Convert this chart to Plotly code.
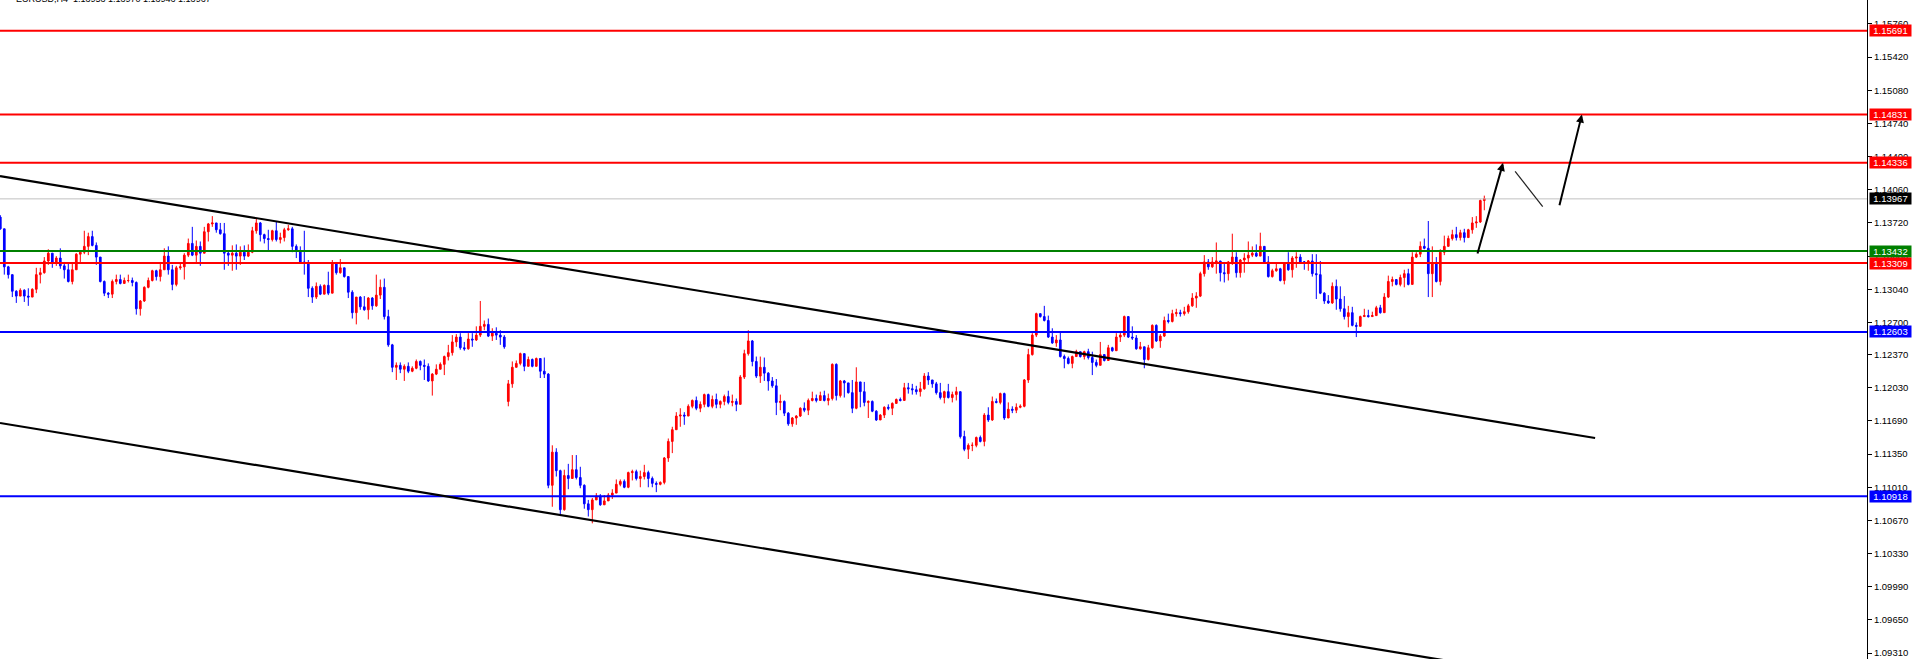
import plotly.graph_objects as go

# ---------------- data (prices in 1e-4 units, i.e. 11366 -> 1.1366) ----------------
first_open_pts = 11378
gap_open_pts = {127: 11189}

close_pts = [
11366,11327,11319,11302,11297,11303,11297,11296,11304,11319,
11321,11333,11341,11331,11336,11328,11324,11312,11324,11340,
11342,11348,11358,11349,11337,11312,11300,11299,11312,11314,
11310,11313,11313,11311,11284,11292,11306,11313,11323,11317,
11324,11338,11324,11309,11326,11327,11339,11351,11339,11348,
11341,11363,11371,11372,11365,11361,11341,11339,11341,11338,
11342,11338,11342,11364,11372,11360,11356,11355,11364,11355,
11357,11365,11366,11348,11343,11332,11331,11305,11296,11307,
11299,11308,11300,11331,11321,11326,11317,11301,11280,11296,
11286,11283,11295,11287,11298,11306,11276,11247,11224,11226,
11222,11225,11220,11223,11230,11226,11225,11210,11217,11222,
11227,11235,11239,11250,11255,11244,11243,11253,11252,11257,
11266,11268,11256,11259,11257,11255,11245,11207,11224,11228,
11238,11225,11232,11225,11233,11220,11217,11103,11137,11118,
11078,11113,11110,11119,11111,11103,11084,11078,11088,11092,
11083,11087,11093,11095,11104,11107,11101,11116,11117,11110,
11112,11116,11110,11105,11104,11106,11131,11148,11160,11174,
11175,11174,11184,11190,11182,11186,11196,11184,11191,11186,
11189,11194,11188,11189,11186,11214,11238,11251,11230,11215,
11224,11218,11210,11205,11188,11189,11177,11166,11172,11174,
11182,11180,11190,11192,11190,11195,11190,11192,11227,11195,
11210,11208,11198,11182,11209,11199,11188,11189,11179,11170,
11175,11183,11182,11187,11191,11190,11203,11202,11201,11199,
11202,11215,11211,11207,11198,11193,11199,11193,11196,11199,
11153,11140,11144,11144,11152,11148,11175,11170,11189,11188,
11197,11172,11181,11180,11183,11184,11211,11237,11257,11279,
11276,11272,11255,11249,11252,11235,11233,11228,11235,11240,
11235,11240,11234,11229,11226,11237,11231,11244,11241,11255,
11257,11276,11255,11254,11243,11245,11232,11244,11267,11251,
11256,11272,11271,11279,11280,11279,11281,11287,11295,11297,
11320,11332,11327,11332,11333,11321,11320,11332,11337,11321,
11334,11336,11339,11341,11338,11348,11332,11317,11323,11325,
11313,11330,11324,11336,11337,11332,11332,11333,11320,11319,
11300,11292,11290,11307,11294,11284,11276,11280,11267,11266,
11276,11277,11276,11277,11285,11280,11296,11312,11314,11309,
11316,11320,11309,11337,11340,11348,11346,11320,11331,11312,
11342,11348,11356,11360,11357,11362,11357,11365,11372,11373,
11395,11397]

high_pts = [
11380,11366,11328,11318,11303,11305,11304,11305,11305,11326,
11326,11337,11345,11341,11338,11346,11332,11331,11331,11341,
11343,11364,11362,11364,11352,11337,11313,11301,11314,11319,
11319,11316,11319,11316,11312,11293,11307,11316,11324,11324,
11332,11346,11348,11329,11328,11331,11341,11356,11368,11354,
11353,11368,11372,11379,11372,11372,11372,11344,11349,11350,
11348,11349,11350,11368,11377,11373,11361,11365,11365,11373,
11362,11367,11370,11368,11350,11348,11364,11334,11307,11311,
11309,11309,11322,11334,11332,11335,11326,11317,11303,11296,
11297,11297,11296,11296,11319,11314,11315,11283,11248,11229,
11229,11227,11229,11225,11232,11231,11232,11228,11218,11227,
11229,11236,11247,11257,11258,11259,11250,11259,11259,11266,
11292,11272,11274,11264,11265,11262,11257,11211,11230,11231,
11239,11238,11235,11233,11234,11228,11234,11218,11144,11141,
11119,11119,11125,11134,11134,11122,11104,11088,11090,11095,
11094,11093,11095,11099,11109,11109,11109,11117,11119,11119,
11118,11124,11118,11112,11107,11107,11132,11151,11163,11178,
11182,11178,11186,11191,11194,11189,11197,11197,11195,11197,
11190,11196,11200,11196,11192,11216,11242,11262,11252,11235,
11235,11234,11219,11214,11212,11196,11190,11178,11173,11175,
11183,11188,11192,11199,11196,11199,11200,11197,11228,11228,
11211,11211,11203,11211,11224,11209,11209,11190,11190,11180,
11176,11184,11186,11188,11192,11193,11208,11208,11207,11205,
11209,11218,11219,11211,11209,11208,11200,11207,11199,11204,
11199,11159,11146,11147,11153,11154,11177,11183,11194,11192,
11198,11198,11188,11184,11187,11186,11212,11243,11259,11280,
11279,11287,11277,11264,11257,11261,11237,11235,11236,11242,
11240,11241,11243,11240,11232,11250,11237,11247,11245,11259,
11260,11277,11276,11266,11257,11250,11245,11247,11268,11268,
11258,11276,11279,11283,11284,11283,11286,11289,11300,11301,
11322,11339,11335,11337,11352,11333,11332,11333,11361,11342,
11335,11341,11353,11348,11350,11362,11348,11338,11325,11330,
11326,11331,11342,11338,11342,11340,11333,11334,11340,11340,
11333,11301,11298,11311,11314,11307,11297,11287,11286,11270,
11277,11284,11283,11281,11287,11288,11300,11318,11317,11314,
11319,11324,11325,11342,11342,11353,11356,11374,11348,11337,
11345,11359,11359,11365,11368,11365,11366,11366,11378,11379,
11396,11400]

low_pts = [
11365,11319,11315,11296,11290,11297,11291,11287,11296,11300,
11310,11320,11329,11326,11328,11325,11315,11311,11309,11324,
11332,11340,11339,11348,11329,11311,11297,11295,11295,11309,
11309,11310,11311,11307,11278,11277,11291,11305,11312,11313,
11312,11324,11319,11303,11307,11324,11314,11337,11338,11332,
11328,11341,11353,11368,11362,11360,11324,11328,11323,11324,
11329,11334,11337,11341,11361,11353,11351,11344,11353,11353,
11351,11353,11364,11342,11336,11330,11319,11296,11290,11294,
11298,11299,11298,11300,11319,11320,11316,11295,11274,11268,
11283,11282,11273,11283,11286,11294,11273,11245,11219,11211,
11218,11210,11218,11219,11222,11221,11211,11209,11195,11216,
11222,11216,11231,11236,11245,11242,11241,11242,11245,11251,
11255,11262,11255,11251,11252,11247,11243,11184,11203,11224,
11226,11220,11225,11224,11225,11213,11213,11100,11081,11112,
11072,11077,11099,11110,11109,11100,11079,11071,11064,11088,
11082,11083,11087,11089,11095,11102,11100,11100,11108,11108,
11101,11109,11101,11101,11096,11103,11104,11127,11136,11160,
11163,11165,11175,11182,11180,11178,11183,11183,11182,11182,
11182,11185,11186,11184,11179,11186,11212,11236,11225,11213,
11208,11210,11200,11203,11175,11180,11174,11164,11163,11165,
11173,11178,11175,11189,11188,11190,11189,11185,11190,11190,
11193,11193,11197,11177,11181,11183,11184,11172,11178,11169,
11172,11172,11180,11175,11187,11189,11190,11197,11196,11196,
11194,11201,11206,11203,11196,11191,11187,11192,11188,11190,
11151,11138,11130,11138,11142,11147,11143,11168,11169,11187,
11186,11170,11174,11177,11177,11182,11183,11208,11236,11255,
11275,11271,11254,11248,11245,11234,11223,11227,11223,11235,
11234,11232,11232,11216,11224,11226,11230,11231,11240,11241,
11250,11255,11254,11252,11242,11242,11223,11231,11243,11250,
11244,11255,11269,11270,11276,11276,11277,11279,11286,11285,
11296,11317,11324,11326,11320,11312,11311,11313,11329,11316,
11316,11321,11332,11337,11337,11338,11331,11316,11316,11322,
11312,11309,11323,11316,11326,11331,11324,11323,11317,11294,
11299,11289,11289,11289,11283,11281,11273,11265,11266,11255,
11266,11276,11275,11276,11277,11279,11280,11295,11307,11308,
11307,11306,11308,11309,11336,11337,11345,11296,11296,11311,
11308,11339,11348,11354,11354,11354,11352,11360,11361,11367,
11372,11385]

# horizontal levels (price, colour)
level_prices = [1.15691, 1.14831, 1.14336, 1.13432, 1.13309, 1.12603, 1.10918]
level_colors = ["#ff0000", "#ff0000", "#ff0000", "#008000", "#ff0000", "#0000ff", "#0000ff"]
last_price = 1.13967

# y-axis ticks
tick_values = [1.15760, 1.15420, 1.15080, 1.14740, 1.14400, 1.14060, 1.13720, 1.13380,
               1.13040, 1.12700, 1.12370, 1.12030, 1.11690, 1.11350, 1.11010, 1.10670,
               1.10330, 1.09990, 1.09650, 1.09310]
tick_labels = ["%.5f" % v for v in tick_values]

# channel lines: (bar index, price) endpoints
upper_channel = [(-0.075, 1.14201), (398.7, 1.11515)]
lower_channel = [(-0.075, 1.11669), (398.7, 1.08982)]

# forecast arrows: (bar index, price)
arrow1 = [(369.2, 1.13391), (375.7, 1.14336)]
arrow2 = [(378.7, 1.14250), (385.6, 1.13887)]
arrow3 = [(389.7, 1.13887), (395.4, 1.14831)]

title_text = "EURUSD,H4  1.13953 1.13970 1.13946 1.13967"

# ---------------- build ----------------
n = len(close_pts)
closes = [v / 10000 for v in close_pts]
highs = [v / 10000 for v in high_pts]
lows = [v / 10000 for v in low_pts]
opens = []
for i in range(n):
    if i == 0:
        opens.append(first_open_pts / 10000)
    elif i in gap_open_pts:
        opens.append(gap_open_pts[i] / 10000)
    else:
        opens.append(closes[i - 1])
highs = [max(h, o, c) for h, o, c in zip(highs, opens, closes)]
lows = [min(l, o, c) for l, o, c in zip(lows, opens, closes)]
xs = list(range(n))

fig = go.Figure()
fig.add_trace(go.Candlestick(
    x=xs, open=opens, high=highs, low=lows, close=closes,
    increasing=dict(line=dict(color="#ff0000", width=1), fillcolor="#ff0000"),
    decreasing=dict(line=dict(color="#0000ff", width=1), fillcolor="#0000ff"),
    whiskerwidth=0, showlegend=False, hoverinfo="skip"))

X0, X1 = -0.075, 466.675

# current price line
fig.add_trace(go.Scatter(x=[X0, X1], y=[last_price, last_price], mode="lines",
                         line=dict(color="#c0c0c0", width=1), showlegend=False, hoverinfo="skip"))
# levels
for p, c in zip(level_prices, level_colors):
    fig.add_trace(go.Scatter(x=[X0, X1], y=[p, p], mode="lines",
                             line=dict(color=c, width=2), showlegend=False, hoverinfo="skip"))
# channel
for seg in (upper_channel, lower_channel):
    fig.add_trace(go.Scatter(x=[seg[0][0], seg[1][0]], y=[seg[0][1], seg[1][1]], mode="lines",
                             line=dict(color="#000000", width=2.2), showlegend=False, hoverinfo="skip"))
# thin middle arrow line
fig.add_trace(go.Scatter(x=[arrow2[0][0], arrow2[1][0]], y=[arrow2[0][1], arrow2[1][1]], mode="lines",
                         line=dict(color="#222222", width=1.2), showlegend=False, hoverinfo="skip"))

annotations = []
for seg in (arrow1, arrow3):
    annotations.append(dict(x=seg[1][0], y=seg[1][1], ax=seg[0][0], ay=seg[0][1],
                            xref="x", yref="y", axref="x", ayref="y", text="",
                            showarrow=True, arrowhead=2, arrowsize=0.8, arrowwidth=2,
                            arrowcolor="#000000"))

# price labels on the axis
label_items = list(zip(level_prices, level_colors)) + [(last_price, "#000000")]
for p, c in label_items:
    annotations.append(dict(x=1, xref="paper", xanchor="left", xshift=2,
                            y=p, yref="y", yanchor="middle",
                            text="%.5f" % p, showarrow=False,
                            font=dict(family="Liberation Sans, Arial, sans-serif", size=9.5, color="#ffffff"),
                            bgcolor=c, borderpad=0, width=41, height=11, align="center"))

annotations.append(dict(x=0, xref="paper", xanchor="left", xshift=14,
                        y=1, yref="paper", yanchor="bottom", yshift=-6,
                        text=title_text, showarrow=False,
                        font=dict(family="Liberation Sans, Arial, sans-serif", size=9, color="#000000")))

fig.update_layout(
    width=1914, height=659, autosize=False,
    margin=dict(l=0, r=47, t=0, b=0, pad=0),
    paper_bgcolor="#ffffff", plot_bgcolor="#ffffff",
    boxgap=0.4,
    showlegend=False,
    annotations=annotations,
    xaxis=dict(range=[X0, X1], visible=False, showgrid=False, zeroline=False,
               rangeslider=dict(visible=False), fixedrange=True),
    yaxis=dict(range=[1.09249, 1.16006], side="right", showgrid=False, zeroline=False,
               showline=True, linecolor="#000000", linewidth=1,
               ticks="outside", ticklen=4, tickwidth=1, tickcolor="#000000",
               tickvals=tick_values, ticktext=tick_labels,
               tickfont=dict(family="Liberation Sans, Arial, sans-serif", size=9.5, color="#000000"),
               fixedrange=True),
)

fig.write_html("out.html", config={"displayModeBar": False},
               post_script="document.body.style.margin='0';document.body.style.overflow='hidden';")
